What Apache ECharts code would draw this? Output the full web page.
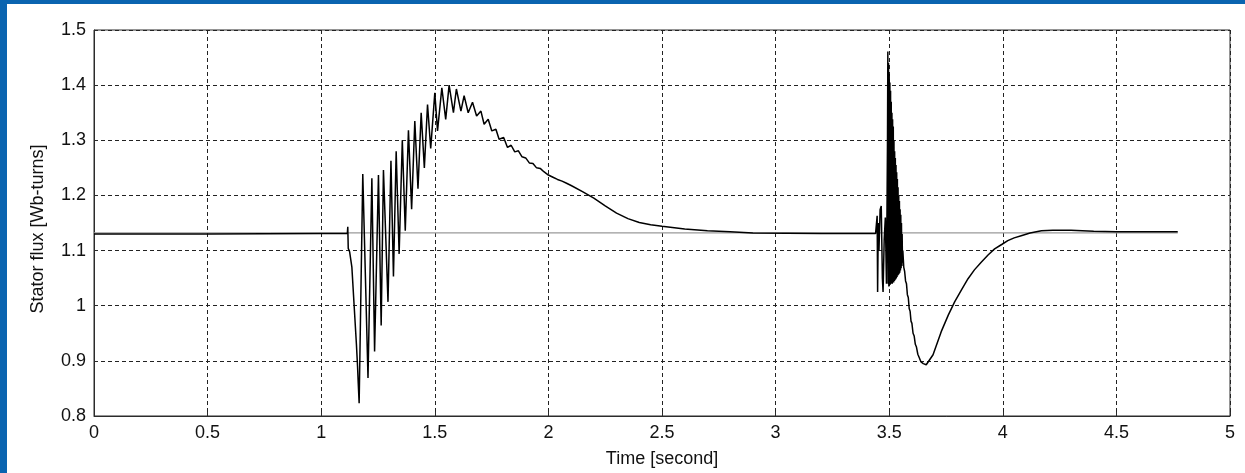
<!DOCTYPE html>
<html>
<head>
<meta charset="utf-8">
<script src="https://cdn.jsdelivr.net/npm/echarts@6/dist/echarts.min.js"></script>
<style>
  html, body { margin: 0; padding: 0; background: #0a64b0; }
  #chart { position: absolute; left: 7px; top: 4px; width: 1238px; height: 469px; background: #ffffff; }
</style>
</head>
<body>
<div id="chart"></div>
<script>
// x axis ticks / y axis ticks
const xTicks = [0, 0.5, 1, 1.5, 2, 2.5, 3, 3.5, 4, 4.5, 5];
const yTicks = [0.8, 0.9, 1, 1.1, 1.2, 1.3, 1.4, 1.5];

// Reference (grey) flux line
const refTime = [0, 4.77];
const refFlux = [1.132, 1.132];

const fluxTime = [
  0, 0.5, 1.0, 1.115,
  1.117, 1.119, 1.125, 1.135, 1.145, 1.155, 1.160, 1.163,
  1.167, 1.183, 1.206, 1.223, 1.235, 1.252, 1.264, 1.274, 1.294, 1.307,
  1.318, 1.330, 1.343, 1.357, 1.370, 1.384, 1.398, 1.412, 1.426, 1.440,
  1.454, 1.468, 1.482, 1.500, 1.512, 1.531, 1.548, 1.563, 1.582, 1.595,
  1.615, 1.629, 1.647, 1.666, 1.684, 1.703, 1.717, 1.735, 1.751, 1.769,
  1.783, 1.803, 1.820, 1.836, 1.852, 1.868, 1.884, 1.900, 1.916, 1.932,
  1.948, 1.964, 1.980, 2.000, 2.020, 2.040, 2.060, 2.080, 2.100,
  2.150, 2.200, 2.250, 2.300, 2.350, 2.400, 2.450,
  2.500, 2.600, 2.700, 2.800, 2.900, 3.200, 3.440,
  3.445, 3.447, 3.449, 3.452, 3.455, 3.460, 3.465, 3.470, 3.473, 3.478, 3.483, 3.488,
  3.4925, 3.494, 3.4955, 3.497, 3.4985, 3.500, 3.5015, 3.503, 3.5045, 3.506,
  3.5075, 3.509, 3.5105, 3.512, 3.5135, 3.515, 3.5165, 3.518, 3.5195, 3.521,
  3.5225, 3.524, 3.5255, 3.527, 3.5285, 3.530, 3.5315, 3.533, 3.5345, 3.536,
  3.5375, 3.539, 3.5405, 3.542, 3.5435, 3.545, 3.5465, 3.548, 3.5495, 3.551,
  3.5525, 3.554, 3.5555, 3.557, 3.5585, 3.560,
  3.564, 3.568, 3.572, 3.576, 3.580, 3.584, 3.588, 3.592, 3.596, 3.600,
  3.605, 3.610, 3.615, 3.620, 3.626, 3.632, 3.640, 3.650,
  3.663, 3.693, 3.729, 3.760, 3.788, 3.820, 3.847, 3.875, 3.905, 3.935, 3.964,
  3.995, 4.022, 4.050, 4.081, 4.120, 4.170, 4.220, 4.300, 4.400, 4.500, 4.770
];
const fluxValue = [
  1.130, 1.130, 1.131, 1.131,
  1.143, 1.104, 1.098, 1.070, 1.000, 0.930, 0.890, 0.860,
  0.823, 1.239, 0.869, 1.231, 0.917, 1.237, 0.964, 1.246, 1.007, 1.263,
  1.053, 1.280, 1.094, 1.300, 1.136, 1.318, 1.175, 1.335, 1.212, 1.350,
  1.250, 1.365, 1.285, 1.386, 1.317, 1.395, 1.338, 1.400, 1.350, 1.393,
  1.353, 1.381, 1.350, 1.369, 1.344, 1.353, 1.329, 1.338, 1.317, 1.320,
  1.302, 1.305, 1.287, 1.291, 1.279, 1.281, 1.270, 1.268, 1.259, 1.258,
  1.250, 1.249, 1.243, 1.237, 1.233, 1.229, 1.226, 1.222, 1.218,
  1.207, 1.195, 1.181, 1.168, 1.158, 1.151, 1.147,
  1.144, 1.139, 1.136, 1.134, 1.132, 1.131, 1.131,
  1.131, 1.163, 1.025, 1.150, 1.100, 1.174, 1.181, 1.050, 1.025, 1.120, 1.160, 1.040,
  1.300, 1.461, 1.040, 1.440, 1.035, 1.420, 1.040, 1.405, 1.038, 1.390,
  1.040, 1.370, 1.042, 1.350, 1.040, 1.338, 1.045, 1.325, 1.042, 1.300,
  1.045, 1.280, 1.046, 1.268, 1.048, 1.255, 1.050, 1.242, 1.052, 1.230,
  1.055, 1.215, 1.056, 1.200, 1.058, 1.190, 1.060, 1.175, 1.064, 1.165,
  1.068, 1.150, 1.072, 1.130, 1.078, 1.100,
  1.070, 1.062, 1.045, 1.040, 1.020, 1.015, 0.995, 0.990, 0.972, 0.968,
  0.950, 0.945, 0.930, 0.925, 0.912, 0.906, 0.898, 0.895,
  0.893, 0.911, 0.953, 0.983, 1.007, 1.030, 1.049, 1.065, 1.079, 1.092, 1.103,
  1.111, 1.118, 1.123, 1.127, 1.132, 1.136, 1.137, 1.137, 1.135, 1.134, 1.134
];

const fluxData = fluxTime.map((t, i) => [t, fluxValue[i]]);
const refData = refTime.map((t, i) => [t, refFlux[i]]);

const FONT = 'Liberation Sans, Arial, Helvetica, sans-serif';
const chart = echarts.init(document.getElementById('chart'), null, { renderer: 'canvas' });
chart.setOption({
  animation: false,
  backgroundColor: '#ffffff',
  grid: { left: 87, right: 15, top: 26, bottom: 55, show: true, borderColor: '#2b2b2b', borderWidth: 1, backgroundColor: 'transparent' },
  xAxis: {
    type: 'value', min: xTicks[0], max: xTicks[xTicks.length - 1], interval: 0.5,
    name: 'Time [second]', nameLocation: 'middle', nameGap: 34,
    nameTextStyle: { color: '#111', fontFamily: FONT, fontSize: 18 },
    axisLine: { show: true, lineStyle: { color: '#2b2b2b', width: 1 } },
    axisTick: { show: true, inside: true, length: 4, lineStyle: { color: '#2b2b2b' } },
    axisLabel: { color: '#111', fontFamily: FONT, fontSize: 18, margin: 8 },
    splitLine: { show: true, lineStyle: { color: '#222', type: [4, 3], width: 1 } }
  },
  yAxis: {
    type: 'value', min: yTicks[0], max: yTicks[yTicks.length - 1], interval: 0.1,
    name: 'Stator flux [Wb-turns]', nameLocation: 'middle', nameGap: 47, nameRotate: 90,
    nameTextStyle: { color: '#111', fontFamily: FONT, fontSize: 18, padding: [0, 12, 0, 0] },
    axisLine: { show: true, lineStyle: { color: '#2b2b2b', width: 1 } },
    axisTick: { show: true, inside: true, length: 4, lineStyle: { color: '#2b2b2b' } },
    axisLabel: { color: '#111', fontFamily: FONT, fontSize: 18, margin: 8,
      formatter: v => String(Math.round(v * 10) / 10) },
    splitLine: { show: true, lineStyle: { color: '#222', type: [4, 3], width: 1 } }
  },
  series: [
    { type: 'line', data: refData, showSymbol: false, symbol: 'none',
      lineStyle: { color: '#9a9a9a', width: 1.2 }, z: 2 },
    { type: 'line', data: fluxData, showSymbol: false, symbol: 'none',
      lineStyle: { color: '#000000', width: 1.5 }, z: 3 }
  ]
});
</script>
</body>
</html>
